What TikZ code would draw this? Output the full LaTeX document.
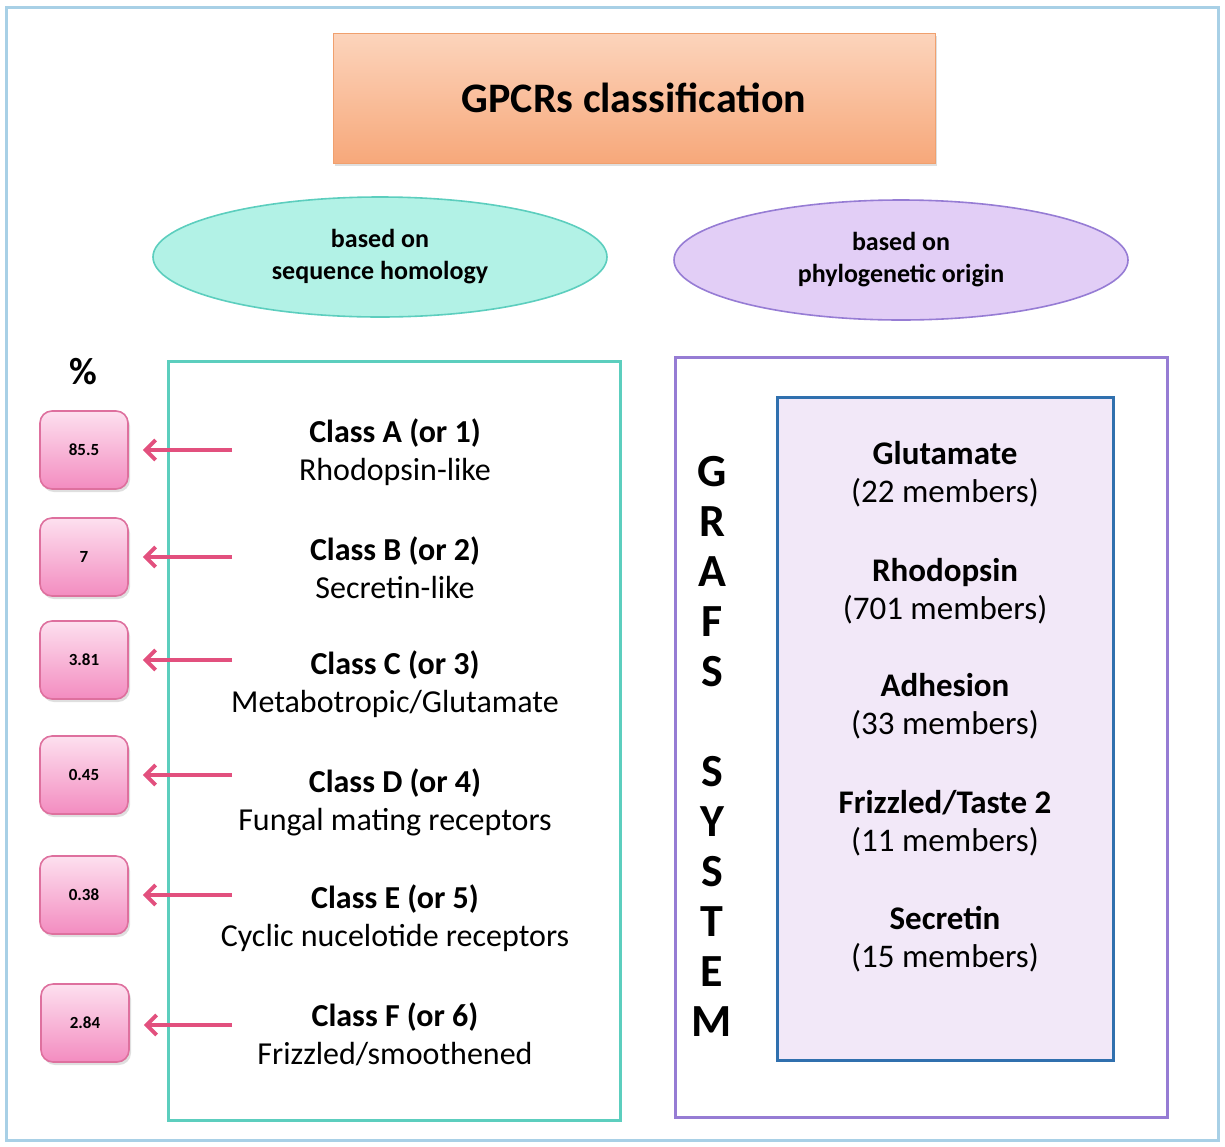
\documentclass[tikz,border=0pt]{standalone}
\usepackage{fontspec}
\setmainfont{Carlito}
\usepackage{xcolor}
\definecolor{framebl}{RGB}{168,208,230}
\definecolor{titletop}{RGB}{252,212,188}
\definecolor{titlebot}{RGB}{247,168,122}
\definecolor{titleline}{RGB}{240,160,110}
\definecolor{seqfill}{RGB}{178,242,230}
\definecolor{seqline}{RGB}{92,206,190}
\definecolor{phyfill}{RGB}{226,206,246}
\definecolor{phyline}{RGB}{150,124,212}
\definecolor{pinktop}{RGB}{253,224,239}
\definecolor{pinkbot}{RGB}{243,140,192}
\definecolor{pinkline}{RGB}{222,112,158}
\definecolor{arrowpink}{RGB}{226,80,126}
\definecolor{grafsfill}{RGB}{242,232,248}
\definecolor{grafsline}{RGB}{48,112,174}
\usepackage{tikz}
\usetikzlibrary{shapes.geometric, arrows.meta, positioning, calc, shadows}
\tikzset{
  titlebox/.style={
    rectangle, draw=titleline, top color=titletop, bottom color=titlebot,
    minimum width=301pt, minimum height=65pt,
    text centered, font=\fontsize{21}{24}\selectfont\bfseries,
    drop shadow={opacity=0.25, shadow xshift=1pt, shadow yshift=-1.5pt}
  },
  basis/.style={
    ellipse, line width=0.8pt, minimum width=227pt, minimum height=60pt,
    align=center, font=\fontsize{13}{16}\selectfont\bfseries
  },
  pctbox/.style={
    rectangle, rounded corners=6pt, draw=pinkline, line width=0.8pt,
    top color=pinktop, bottom color=pinkbot,
    minimum width=44pt, minimum height=39pt,
    text centered, font=\fontsize{8.5}{10}\selectfont\bfseries,
    drop shadow={opacity=0.25, shadow xshift=1pt, shadow yshift=-1.5pt}
  },
  classtext/.style={
    align=center, font=\fontsize{16}{19}\selectfont
  },
  famtext/.style={
    align=center, font=\fontsize{16.5}{19}\selectfont
  },
  arrow/.style={line width=2pt, -{Straight Barb[length=5pt, width=10pt]},
    color=arrowpink, shorten >=7pt},
}

\begin{document}
\begin{tikzpicture}[x=0.5pt, y=-0.5pt]
  \useasboundingbox (0,0) rectangle (1225,1146);
  \draw [framebl, line width=1.5pt] (6,7) rectangle (1218,1140);

  % top of the chart
  \node (title) [titlebox] at (634,98) {GPCRs classification};
  \node (seq) [basis, draw=seqline, fill=seqfill] at (380,257)
    {based on\\sequence homology};
  \node (phy) [basis, draw=phyline, fill=phyfill] at (901,260)
    {based on\\phylogenetic origin};

  % sequence homology classes
  \draw [seqline, line width=1.5pt] (168,361) rectangle (620,1120);
  \node (pct) at (83,372) {\fontsize{19}{22}\selectfont\bfseries\%};

  \node (pA) [pctbox] at (84,450)  {85.5};
  \node (pB) [pctbox] at (84,557)  {7};
  \node (pC) [pctbox] at (84,660)  {3.81};
  \node (pD) [pctbox] at (84,775)  {0.45};
  \node (pE) [pctbox] at (84,895)  {0.38};
  \node (pF) [pctbox] at (85,1023) {2.84};

  \node (cA) [classtext] at (395,452)  {\textbf{Class A (or 1)}\\Rhodopsin-like};
  \node (cB) [classtext] at (395,568)  {\textbf{Class B (or 2)}\\Secretin-like};
  \node (cC) [classtext] at (395,684)  {\textbf{Class C (or 3)}\\Metabotropic/Glutamate};
  \node (cD) [classtext] at (395,802)  {\textbf{Class D (or 4)}\\Fungal mating receptors};
  \node (cE) [classtext] at (395,918)  {\textbf{Class E (or 5)}\\Cyclic nucelotide receptors};
  \node (cF) [classtext] at (395,1034) {\textbf{Class F (or 6)}\\Frizzled/smoothened};

  \coordinate (aA) at (232,450);
  \coordinate (aB) at (232,557);
  \coordinate (aC) at (232,660);
  \coordinate (aD) at (232,775);
  \coordinate (aE) at (232,895);
  \coordinate (aF) at (232,1025);

  \draw [arrow] (aA) -- (aA -| pA.east);
  \draw [arrow] (aB) -- (aB -| pB.east);
  \draw [arrow] (aC) -- (aC -| pC.east);
  \draw [arrow] (aD) -- (aD -| pD.east);
  \draw [arrow] (aE) -- (aE -| pE.east);
  \draw [arrow] (aF) -- (aF -| pF.east);

  % GRAFS system
  \draw [phyline, line width=1.5pt] (675,357) rectangle (1167,1117);
  \draw [grafsline, fill=grafsfill, line width=1.5pt] (777,397) rectangle (1113,1060);
  \node (grafs) [align=center, font=\fontsize{23}{25}\selectfont\bfseries]
    at (712,746) {G\\R\\A\\F\\S\\[25pt]S\\Y\\S\\T\\E\\M};

  \node (glu) [famtext] at (945,474) {\textbf{Glutamate}\\(22 members)};
  \node (rho) [famtext] at (945,591) {\textbf{Rhodopsin}\\(701 members)};
  \node (adh) [famtext] at (945,706) {\textbf{Adhesion}\\(33 members)};
  \node (fri) [famtext] at (945,823) {\textbf{Frizzled/Taste 2}\\(11 members)};
  \node (sec) [famtext] at (945,939) {\textbf{Secretin}\\(15 members)};
\end{tikzpicture}
\end{document}
